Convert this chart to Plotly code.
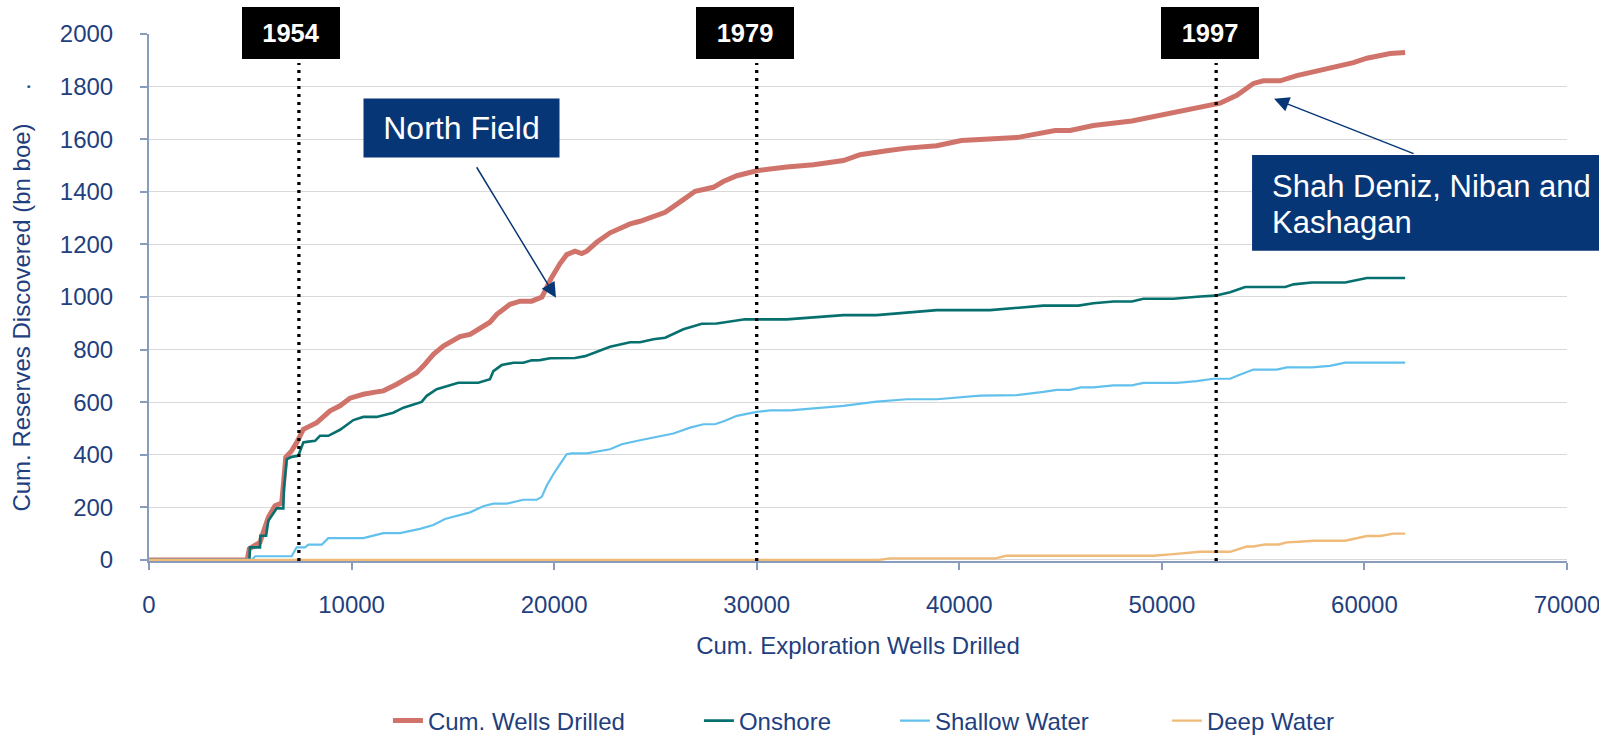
import plotly.graph_objects as go

# ---------------- data ----------------
total_wells = [0, 4850, 4950, 5480, 5640, 5890, 6220, 6550, 6630, 6750, 7040, 7290, 7620, 7950,
               8280, 8940, 9430, 9920, 10580, 11240, 11570, 12230, 13210, 13540, 14040, 14530,
               15350, 15850, 16830, 17170, 17820, 18320, 18890, 19400, 19850, 20290, 20620, 21030,
               21360, 21610, 22100, 22760, 23750, 24240, 24900, 25480, 26380, 26960, 27860, 28350,
               29020, 30000, 31480, 32800, 34280, 35100, 36420, 37410, 38890, 40100, 42840, 44730,
               45470, 46620, 48520, 49910, 51230, 52870, 53700, 54520, 55010, 55840, 56660, 58140,
               59460, 60120, 61270, 62010]
total_res = [0, 0, 42, 67, 105, 162, 206, 216, 282, 390, 415, 446, 497, 510,
             522, 567, 586, 615, 630, 639, 643, 668, 712, 737, 782, 813,
             849, 858, 904, 934, 972, 984, 984, 1000, 1070, 1127, 1161, 1174,
             1165, 1174, 1208, 1244, 1278, 1288, 1307, 1322, 1370, 1402, 1417, 1439,
             1461, 1480, 1494, 1503, 1519, 1541, 1556, 1566, 1575, 1595, 1606, 1633,
             1633, 1652, 1669, 1691, 1712, 1737, 1767, 1812, 1822, 1822, 1842, 1869,
             1891, 1908, 1926, 1930]

onshore_wells = [0, 4960, 4980, 5480, 5500, 5780, 5890, 6140, 6300, 6630, 6660, 6800, 7040, 7370,
                 7620, 7780, 8200, 8440, 8850, 9430, 10090, 10580, 11240, 12060, 12560, 13460,
                 13710, 14200, 15270, 16260, 16830, 17000, 17410, 17990, 18480, 18890, 19300,
                 19800, 21030, 21530, 22100, 22760, 23750, 24240, 24900, 25480, 26380, 27290,
                 28030, 28690, 29430, 31480, 34280, 35920, 38890, 41520, 44150, 45880, 46620,
                 47610, 48520, 49090, 50570, 51890, 52630, 53370, 54110, 56090, 56500, 57400,
                 59050, 60120, 62010]
onshore_res = [0, 0, 48, 48, 92, 92, 149, 175, 196, 196, 273, 383, 392, 396,
               447, 449, 453, 472, 472, 495, 532, 544, 544, 560, 579, 601,
               624, 649, 674, 674, 687, 718, 741, 750, 750, 759, 760,
               767, 768, 775, 792, 811, 828, 828, 839, 845, 877, 898,
               899, 906, 915, 915, 931, 931, 950, 950, 967, 967, 976,
               983, 983, 993, 993, 1002, 1005, 1018, 1038, 1038, 1048, 1055,
               1055, 1072, 1072]

shallow_wells = [0, 5050, 5250, 7040, 7290, 7700, 7870, 8530, 8850, 10580, 11570, 12390, 13380,
                 14040, 14610, 15850, 16500, 17000, 17660, 18480, 19140, 19390, 19630, 19960,
                 20290, 20620, 20870, 21610, 22760, 23340, 24240, 24900, 25890, 26710, 27370,
                 27940, 28440, 29020, 30000, 30660, 31650, 34280, 35920, 37410, 38890, 41030,
                 42840, 44150, 44810, 45470, 46000, 46620, 47610, 48520, 49090, 50740, 51720,
                 52540, 53370, 53780, 54520, 55670, 56170, 57400, 58300, 59050, 62010]
shallow_res = [0, 0, 14, 14, 48, 48, 58, 58, 83, 83, 102, 102, 118,
               133, 156, 181, 204, 214, 214, 229, 229, 240, 282, 326,
               364, 402, 405, 405, 421, 440, 455, 465, 481, 503, 516,
               516, 529, 548, 563, 569, 569, 586, 602, 611, 611, 625,
               627, 639, 647, 647, 656, 656, 664, 664, 673, 673, 680,
               689, 689, 702, 724, 724, 732, 732, 738, 750, 750]

deep_wells = [0, 36000, 36600, 41800, 42300, 49580, 50570, 51890, 53370, 54190, 54520, 55100,
              55770, 56170, 56750, 57480, 59050, 60120, 60780, 61430, 62010]
deep_res = [0, 0, 6, 6, 16, 16, 22, 31, 31, 51, 51, 59,
            59, 67, 69, 73, 73, 91, 91, 100, 100]

series_names = ["Cum. Wells Drilled", "Onshore", "Shallow Water", "Deep Water"]

years = ["1954", "1979", "1997"]
year_wells = [7400, 30000, 52680]

x_ticks = [0, 10000, 20000, 30000, 40000, 50000, 60000, 70000]
y_ticks = [0, 200, 400, 600, 800, 1000, 1200, 1400, 1600, 1800, 2000]

callout_north = "North Field"
callout_shah = ["Shah Deniz, Niban and", "Kashagan"]

# ---------------- styling ----------------
FONT = "Liberation Sans, Arial, sans-serif"
FS = 24
NAVY_TXT = "#1F3F7E"
BOX = "#073677"
AXIS = "#8A9CBC"
colors = ["#D0746B", "#06706F", "#62C1EC", "#F0BA78"]
widths = [5, 2.6, 2.2, 2.4]
legend_widths = [266, 151, 227, 130]

fig = go.Figure()
for name, xs, ys, c, w, lw in zip(
        series_names,
        [total_wells, onshore_wells, shallow_wells, deep_wells],
        [total_res, onshore_res, shallow_res, deep_res],
        colors, widths, legend_widths):
    fig.add_trace(go.Scatter(x=xs, y=ys, mode="lines", name=name,
                             line=dict(color=c, width=w), legendwidth=lw))

# year marker lines and boxes
box_shift = [-8, -12, -6]
for yr, xw, sh in zip(years, year_wells, box_shift):
    fig.add_shape(type="line", xref="x", yref="paper", x0=xw, x1=xw, y0=0, y1=0.945,
                  line=dict(color="black", width=3.3, dash="3px,5px"))
    fig.add_annotation(x=xw, y=1, xref="x", yref="paper", xanchor="center", yanchor="middle",
                       xshift=sh, yshift=1, text="<b>%s</b>" % yr, showarrow=False,
                       font=dict(family=FONT, size=25.5, color="white"),
                       bgcolor="black", width=98, height=52, borderpad=0, borderwidth=0)

# North Field callout
fig.add_annotation(x=0.2204, y=0.8216, xref="paper", yref="paper", xanchor="center",
                   yanchor="middle", text=callout_north, showarrow=False,
                   font=dict(family=FONT, size=32, color="white"),
                   bgcolor=BOX, width=195, height=58, borderpad=0)
fig.add_annotation(x=20090, y=997, ax=16130, ay=1499, xref="x", yref="y", axref="x", ayref="y",
                   text="", showarrow=True, arrowhead=2, arrowsize=2, arrowwidth=1.5,
                   arrowcolor=BOX, standoff=0)

# Shah Deniz callout (box + two text lines)
fig.add_shape(type="rect", xref="paper", yref="paper", x0=0.7779, x1=1.06, y0=0.5888, y1=0.7704,
              fillcolor=BOX, line=dict(width=0), layer="above")
for txt, yy in zip(callout_shah, [0.7102, 0.6414]):
    fig.add_annotation(x=0.7911, y=yy, xref="paper", yref="paper", xanchor="left",
                       yanchor="middle", text=txt, showarrow=False, borderpad=0,
                       font=dict(family=FONT, size=31, color="white"))
fig.add_annotation(x=55540, y=1754, ax=62500, ay=1543, xref="x", yref="y", axref="x", ayref="y",
                   text="", showarrow=True, arrowhead=2, arrowsize=2, arrowwidth=1.5,
                   arrowcolor=BOX, standoff=0)

fig.update_layout(
    width=1599, height=735,
    margin=dict(l=149, r=32, t=34, b=174, autoexpand=False),
    paper_bgcolor="white", plot_bgcolor="white",
    font=dict(family=FONT, size=FS, color=NAVY_TXT),
    showlegend=True,
    legend=dict(orientation="h", x=0.1685, xanchor="left", y=-0.3036, yanchor="middle",
                font=dict(family=FONT, size=FS, color=NAVY_TXT),
                bgcolor="rgba(0,0,0,0)", traceorder="normal"),
    xaxis=dict(range=[0, 70000], tickvals=x_ticks, tickformat="d", showgrid=False,
               zeroline=False, showline=True, linecolor=AXIS, linewidth=2,
               ticks="outside", ticklen=7, tickwidth=2, tickcolor=AXIS,
               ticklabelstandoff=14, ticklabeloverflow="allow", layer="below traces",
               tickfont=dict(family=FONT, size=FS, color=NAVY_TXT),
               title=dict(text="Cum. Exploration Wells Drilled", standoff=20,
                          font=dict(family=FONT, size=FS, color=NAVY_TXT))),
    yaxis=dict(range=[-4, 2000], tickvals=y_ticks, showgrid=True, gridcolor="#D9D9D9",
               gridwidth=1.3, zeroline=False, showline=True, linecolor=AXIS, linewidth=2,
               ticks="outside", ticklen=7, tickwidth=2, tickcolor=AXIS,
               ticklabelstandoff=22, layer="below traces",
               tickfont=dict(family=FONT, size=FS, color=NAVY_TXT),
               title=dict(text="Cum. Reserves Discovered (bn boe)" + "\u00a0" * 5 + ".",
                          standoff=22,
                          font=dict(family=FONT, size=FS, color=NAVY_TXT))),
)

fig.write_html("out.html")
